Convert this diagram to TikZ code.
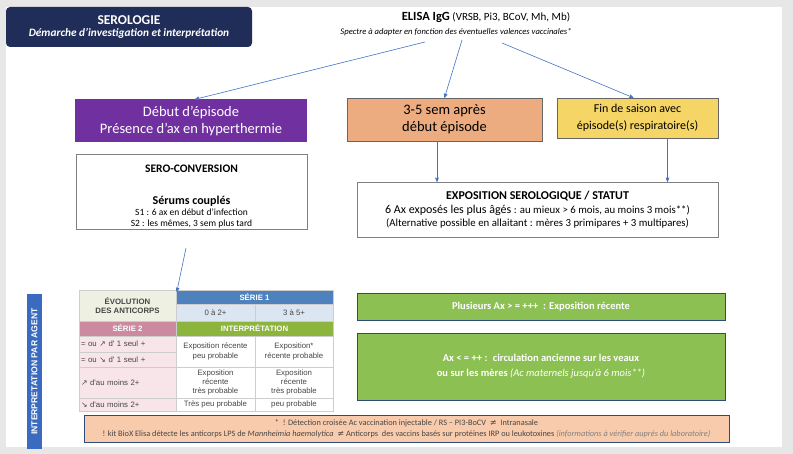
\documentclass[tikz,border=0pt]{standalone}
\usepackage{fontspec}
\setmainfont{Carlito}
\newfontfamily\tabfont{Liberation Sans}
\newfontfamily\symfont{DejaVu Sans}
\usetikzlibrary{arrows,shapes}
\definecolor{fond_gris}{RGB}{231,231,231}
\definecolor{bleu_nuit}{RGB}{31,45,88}
\definecolor{violet_ep}{RGB}{112,48,160}
\definecolor{orange_ep}{RGB}{237,172,127}
\definecolor{jaune_ep}{RGB}{245,213,101}
\definecolor{vert_ep}{RGB}{140,192,82}
\definecolor{bord_vert}{RGB}{47,75,124}
\definecolor{peche}{RGB}{248,203,173}
\definecolor{bleu_fleche}{RGB}{68,114,196}
\definecolor{bleu_bande}{RGB}{58,107,192}
\definecolor{creme}{RGB}{238,241,226}
\definecolor{bleu_s1}{RGB}{79,129,189}
\definecolor{bleu_clair}{RGB}{220,230,242}
\definecolor{rose_s2}{RGB}{204,138,160}
\definecolor{rose_clair}{RGB}{247,229,234}
\definecolor{vert_interp}{RGB}{141,180,60}
\definecolor{gris_txt}{RGB}{70,70,70}
\definecolor{bord_tab}{RGB}{205,205,205}
\tikzset{
  boite/.style = {align=center, inner sep=0pt, text centered, rectangle},
  dim/.style 2 args = {minimum width=#1pt, minimum height=#2pt},
  titre_b/.style = {boite, rounded corners=4pt, fill=bleu_nuit, text=white,
    dim={246}{40}},% titre, fond bleu nuit
  ep_violet/.style = {boite, fill=violet_ep, text=white,
    font=\fontsize{14.5}{17}\selectfont, dim={232}{43}},% debut d'episode
  ep_orange/.style = {boite, fill=orange_ep, draw=gray!80!black,
    font=\fontsize{14.5}{17}\selectfont, dim={195}{43}},% 3-5 semaines
  ep_jaune/.style = {boite, fill=jaune_ep, draw=gray!80!black,
    font=\fontsize{12}{17}\selectfont, dim={161}{40}},% fin de saison
  cadre/.style = {boite, draw=gray, fill=white},% encadre blanc
  vert_b/.style = {boite, fill=vert_ep, draw=bord_vert, thick, text=white,
    font=\fontsize{10.5}{15}\selectfont\bfseries},% interpretation, vert
  cel/.style = {boite, draw=bord_tab, font=\tabfont\fontsize{7.8}{9.3}\selectfont,
    text=gris_txt},% cellule du tableau
  cel_t/.style = {cel, text=white, font=\tabfont\fontsize{7.8}{9}\selectfont\bfseries},% en-tete colore
  ligne/.style = {cel, align=left, text width=93pt, inner xsep=2pt,
    fill=rose_clair},% ligne serie 2
  fleche/.style = {->, >=stealth', draw=bleu_fleche, line width=0.6pt}
}

\begin{document}
\begin{tikzpicture}[x=1pt, y=-1pt]
\useasboundingbox (0,0) rectangle (793,454);
\fill[fond_gris] (0,0) rectangle (793,454);
\fill[white] (6,7) rectangle (782,447);

% en-tete
\node [titre_b] (titre) at (129,27) {{\fontsize{13.5}{15}\selectfont\bfseries SEROLOGIE}\\[0pt]
  {\fontsize{11.3}{13}\selectfont\bfseries\itshape D\'emarche d'investigation et interpr\'etation}};
\node [boite, font=\fontsize{11}{13}\selectfont] (elisa) at (486,17)
  {{\fontsize{12.5}{14}\selectfont\bfseries ELISA IgG} (VRSB, Pi3, BCoV, Mh, Mb)};
\node [boite, font=\fontsize{8.6}{10}\selectfont\itshape] (spectre) at (456,32)
  {Spectre \`a adapter en fonction des \'eventuelles valences vaccinales*};
\coordinate (dep_g) at (425,42);
\coordinate (dep_m) at (462,40);
\coordinate (dep_d) at (502,43);

% episodes
\node [ep_violet] (debut) at (191,121) {D\'ebut d'\'episode\\Pr\'esence d'ax en hyperthermie};
\node [ep_orange] (sem) at (444.5,119.5) {3-5 sem apr\`es\\d\'ebut \'episode};
\node [ep_jaune] (fin) at (637.5,118) {Fin de saison avec\\\'episode(s) respiratoire(s)};

\draw [fleche] (dep_g) -- ([xshift=4pt]debut.north);
\draw [fleche] (dep_m) -- (sem.north);
\draw [fleche] (dep_d) -- ([xshift=-4pt]fin.north);

% sero-conversion
\node [cadre, dim={231}{75}] (sero) at (191.5,192) {};
\node [boite, font=\fontsize{11.5}{13}\selectfont\bfseries] (sero_t) at (191.5,169) {SERO-CONVERSION};
\node [boite, font=\fontsize{9.5}{11}\selectfont] (serums) at (191.5,212)
  {{\fontsize{12}{14}\selectfont\bfseries S\'erums coupl\'es}\\
  S1 : 6 ax en d\'ebut d'infection\\S2 : les m\^emes, 3 sem plus tard};

% exposition
\node [cadre, dim={361}{55}, font=\fontsize{10.8}{13}\selectfont] (expo) at (537.5,209.5)
  {{\fontsize{12}{14}\selectfont\bfseries EXPOSITION SEROLOGIQUE / STATUT}\\[1pt]
  {\fontsize{12}{14}\selectfont 6 Ax expos\'es les plus \^ag\'es} : au mieux > 6 mois, au moins 3 mois**)\\
  (Alternative possible en allaitant : m\`eres 3 primipares + 3 multipares)};
\draw [fleche] ([xshift=-7.5pt]sem.south) -- ([xshift=-7.5pt]sem.south |- expo.north);
\draw [fleche] ([xshift=30pt]fin.south) -- ([xshift=30pt]fin.south |- expo.north);

% bande laterale
\node [boite, fill=bleu_bande, text=white, dim={155}{15}, rotate=90,
  font=\tabfont\fontsize{8.6}{10}\selectfont\bfseries] (bande) at (34.5,371.5)
  {INTERPRETATION PAR AGENT};

% tableau
\node [cel, fill=creme, dim={97}{31}, font=\tabfont\fontsize{7.8}{9}\selectfont\bfseries] (evol) at (127.5,305.5)
  {\'EVOLUTION\\DES ANTICORPS};
\node [cel_t, fill=bleu_s1, dim={157}{14}] (serie1) at (254.5,297) {S\'ERIE 1};
\node [cel, fill=bleu_clair, dim={79}{17}] (c02) at (215.5,312.5) {0 \`a 2+};
\node [cel, fill=bleu_clair, dim={78}{17}] (c35) at (294,312.5) {3 \`a 5+};
\node [cel_t, fill=rose_s2, dim={97}{15}] (serie2) at (127.5,328.5) {S\'ERIE 2};
\node [cel_t, fill=vert_interp, dim={157}{15}] (interp) at (254.5,328.5) {INTERPR\'ETATION};
\node [ligne, minimum height=16pt] (r1) at (127.5,344) {= ou {\symfont ↗} d' 1 seul +};
\node [ligne, minimum height=15pt] (r2) at (127.5,359.5) {= ou {\symfont ↘} d' 1 seul +};
\node [ligne, minimum height=31pt] (r3) at (127.5,382.5) {{\symfont ↗} d'au moins 2+};
\node [ligne, minimum height=13pt] (r4) at (127.5,404.5) {{\symfont ↘} d'au moins 2+};
\node [cel, fill=white, dim={79}{31}] (i11) at (215.5,351.5) {Exposition r\'ecente\\peu probable};
\node [cel, fill=white, dim={78}{31}] (i12) at (294,351.5) {Exposition*\\r\'ecente probable};
\node [cel, fill=white, dim={79}{31}] (i21) at (215.5,382.5) {Exposition\\r\'ecente\\tr\`es probable};
\node [cel, fill=white, dim={78}{31}] (i22) at (294,382.5) {Exposition\\r\'ecente\\tr\`es probable};
\node [cel, fill=white, dim={79}{13}] (i31) at (215.5,404.5) {Tr\`es peu probable};
\node [cel, fill=white, dim={78}{13}] (i32) at (294,404.5) {peu probable};

\coordinate (sero_bas) at (186,248);
\draw [fleche] (sero_bas) -- ([xshift=1pt,yshift=-2pt]serie1.north west);

% interpretation
\node [vert_b, dim={368}{27}] (recente) at (541,306.5) {Plusieurs Ax > = +++ \ : Exposition r\'ecente};
\node [vert_b, dim={368}{67}] (ancienne) at (541,366.5)
  {Ax < = ++ : \ circulation ancienne sur les veaux\\
  ou sur les m\`eres {\mdseries\itshape (Ac maternels jusqu'\`a 6 mois**)}};

% notes
\node [boite, fill=peche, draw=bord_vert, dim={645}{27}, text=gris_txt,
  font=\fontsize{8.3}{11}\selectfont] (notes) at (406.5,428.5)
  {* \ ! D\'etection crois\'ee Ac vaccination injectable / RS -- PI3-BoCV \ {\symfont ≠} \ Intranasale\\
  ! kit BioX Elisa d\'etecte les anticorps LPS de \textit{Mannheimia haemolytica} \ {\symfont ≠} Anticorps \ des vaccins bas\'es sur prot\'eines IRP ou leukotoxines {\itshape\color{gray}(informations \`a v\'erifier aupr\`es du laboratoire)}};
\end{tikzpicture}
\end{document}
